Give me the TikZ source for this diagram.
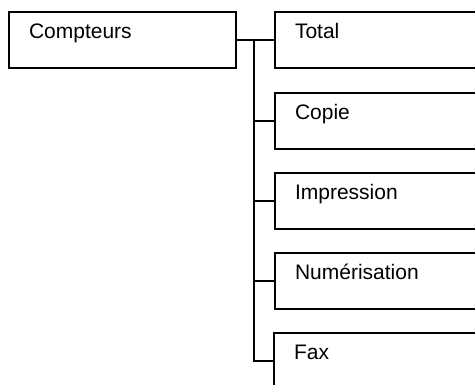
\documentclass[tikz,border=0pt]{standalone}
\usepackage{fontspec}
\setmainfont{Liberation Sans}
\usetikzlibrary{positioning}

\begin{document}
\begin{tikzpicture}[x=1pt, y=-1pt, line width=2pt,
        font=\fontsize{21}{25}\selectfont,
        menu/.style={draw, anchor=north west, inner xsep=20pt, inner ysep=0pt,
            text height=26pt, text depth=30pt, align=left},
        racine/.style={menu, text width=187pt},
        entree/.style={menu, text width=206pt}]
        \clip (0,0) rectangle (475,384);
        \node[racine] (cpt) at (8,11)   {Compteurs};
        \node[entree] (tot) at (274,11)  {Total};
        \node[entree] (cop) at (274,92)  {Copie};
        \node[entree] (imp) at (274,172) {Impression};
        \node[entree] (num) at (274,252) {Numérisation};
        \node[entree] (fax) at (273,332) {Fax};
        \coordinate (tronc) at (254,0);
        \draw (cpt.east) -- (tot.west);
        \draw (tronc |- tot.west) -- (tronc |- fax.west) -- (fax.west);
        \foreach \n in {cop,imp,num} \draw (tronc |- \n.west) -- (\n.west);
    \end{tikzpicture}
\end{document}
